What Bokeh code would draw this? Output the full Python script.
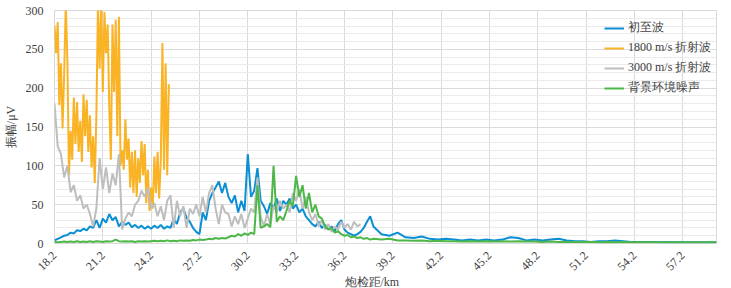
from bokeh.plotting import figure
from bokeh.models import Range1d, FixedTicker, Legend, LegendItem, Title
from bokeh.embed import file_html
from bokeh.resources import INLINE
from math import pi

# ---------------- data ----------------
series_names = ["初至波", "1800 m/s 折射波", "3000 m/s 折射波", "背景环境噪声"]

# 1800 m/s refraction: samples every 0.1 km from 18.2 km
orange_start, orange_step = 18.2, 0.1
orange_uv = [281, 245, 285, 178, 232, 148, 218, 310, 235, 88,
             145, 108, 188, 128, 182, 118, 158, 105, 192, 138,
             185, 118, 165, 98, 138, 78, 165, 310, 225, 305,
             195, 298, 245, 282, 175, 108, 282, 195, 288, 138,
             292, 100, 120, 95, 160, 108, 135, 72, 118, 65,
             120, 60, 110, 78, 132, 88, 128, 52, 95, 42,
             72, 45, 112, 65, 118, 58, 108, 258, 95, 232,
             88, 205]

# dense part: samples every 0.2 km from 18.2 km
dense_start, dense_step = 18.2, 0.2
gray_uv = [180, 125, 115, 85, 100, 66, 75, 55, 62, 45,
           50, 38, 22, 45, 110, 70, 98, 65, 90, 75,
           115, 18, 32, 40, 35, 50, 55, 68, 60, 72,
           45, 52, 35, 48, 30, 55, 62, 20, 55, 35,
           48, 20, 45, 38, 50, 35, 60, 40, 65, 75,
           45, 25, 50, 40, 38, 22, 35, 25, 38, 20,
           32, 45, 40, 85, 35, 22, 38, 25, 48, 40,
           55, 45, 50, 40, 65, 55, 70, 45, 60, 40,
           30, 38, 22, 30, 18, 25, 15, 22, 18, 28,
           20, 25, 18, 28, 22, 25]

blue_uv_dense = [4, 6, 8, 10, 11, 14, 13, 17, 16, 19,
                 17, 22, 20, 30, 20, 32, 27, 38, 30, 34,
                 22, 28, 24, 27, 21, 24, 20, 23, 19, 22,
                 19, 23, 20, 24, 19, 22, 20, 32, 25, 40,
                 45, 33, 28, 20, 15, 12, 40, 30, 55, 65,
                 72, 80, 65, 78, 60, 52, 62, 40, 55, 42,
                 115, 60, 68, 97, 55, 48, 38, 52, 45, 58,
                 42, 55, 50, 58, 45, 50, 40, 45, 35, 30,
                 25, 22, 28, 20, 24, 18, 22, 16, 25, 30,
                 18, 14, 12, 10, 12, 15, 20, 28, 35, 22]

green_uv_dense = [2, 1.5, 2, 2.5, 2, 2.5, 2, 3, 2, 2.5,
                  2, 3, 2, 3, 2.5, 2, 3, 2.5, 3, 5,
                  3, 2.5, 3, 2.5, 3, 2, 3, 2.5, 3, 2.5,
                  3, 3.5, 3, 3.5, 3, 4, 3, 3.5, 3, 4,
                  3.5, 4, 3.5, 4.5, 4, 5, 4.5, 5, 6, 5.5,
                  7, 6, 7, 6.5, 8, 10, 9, 12, 10, 13,
                  11, 14, 12, 75, 20, 22, 25, 21, 100, 28,
                  35, 30, 42, 55, 48, 87, 60, 75, 45, 65,
                  40, 50, 35, 32, 22, 18, 20, 14, 16, 12,
                  10, 11, 8, 9, 7, 8, 6, 7, 5, 6]

# tail part (km), sparser samples
tail_km = [38.5, 39.0, 39.5, 40.0, 40.5, 41.0, 41.5, 42.0, 42.5, 43.0,
           43.5, 44.0, 44.5, 45.0, 45.5, 46.0, 46.5, 47.0, 47.5, 48.0,
           48.5, 49.0, 49.5, 50.0, 50.5, 51.0, 51.5, 52.0, 52.5, 53.0,
           53.5, 54.0, 54.5, 55.0, 55.5, 56.0, 56.5, 57.0, 57.5, 58.0,
           58.5, 59.0, 59.3]
blue_uv_tail = [12, 10, 14, 8, 7, 9, 6, 5, 6, 5,
                4, 5, 4, 5, 4, 5, 8, 7, 4, 5,
                4, 5, 6, 4, 3, 3, 2, 3, 3, 4,
                3, 2, 2, 2, 2, 1.5, 2, 1.5, 1.5, 1.5,
                1.5, 1.5, 1.5]
green_uv_tail = [5, 6, 4, 4, 3.5, 4, 3, 3.5, 3, 3,
                 2.5, 3, 2.5, 3, 2.5, 3, 2.5, 3, 2.5, 2.5,
                 2, 2.5, 2, 2, 2, 2, 2, 1.5, 2, 1.5,
                 2, 1.5, 1.5, 1.5, 1.5, 1.5, 1.5, 1.5, 1.5, 1.5,
                 1.5, 1.5, 1.5]

x_tick_labels = ["18.2", "21.2", "24.2", "27.2", "30.2", "33.2", "36.2",
                 "39.2", "42.2", "45.2", "48.2", "51.2", "54.2", "57.2"]
y_ticks = [0, 50, 100, 150, 200, 250, 300]
y_minor = [10, 20, 30, 40, 60, 70, 80, 90, 110, 120, 130, 140, 160, 170, 180, 190,
           210, 220, 230, 240, 260, 270, 280, 290]

colors = ["#0A8FD4", "#F9B325", "#BEBEBE", "#4DB748"]

# ---------------- build x positions ----------------
orange_km = [round(orange_start + orange_step * i, 2) for i in range(len(orange_uv))]
gray_km = [round(dense_start + dense_step * i, 2) for i in range(len(gray_uv))]
dense_km = [round(dense_start + dense_step * i, 2) for i in range(len(blue_uv_dense))]
blue_km = dense_km + tail_km
blue_uv = blue_uv_dense + blue_uv_tail
green_km = dense_km + tail_km
green_uv = green_uv_dense + green_uv_tail

SERIF = "Liberation Serif"
TXT = "#404040"

p = figure(width=731, height=288, output_backend="svg", toolbar_location=None,
           x_range=Range1d(18.2, 59.3), y_range=Range1d(0, 300),
           min_border_left=43, min_border_right=15, min_border_top=10, min_border_bottom=45)

p.background_fill_color = "white"
p.border_fill_color = "white"
p.outline_line_color = "#D9D9D9"
p.outline_line_width = 1

r_blue = p.line(blue_km, blue_uv, line_color=colors[0], line_width=2)
r_orange = p.line(orange_km, orange_uv, line_color=colors[1], line_width=2)
r_gray = p.line(gray_km, gray_uv, line_color=colors[2], line_width=2)
r_green = p.line(green_km, green_uv, line_color=colors[3], line_width=2)

# axes
x_ticks = [float(s) for s in x_tick_labels]
p.xaxis.ticker = FixedTicker(ticks=x_ticks)
p.xaxis.major_label_overrides = {t: s for t, s in zip(x_ticks, x_tick_labels)}
p.xaxis.major_label_orientation = pi / 4
p.yaxis.ticker = FixedTicker(ticks=y_ticks, minor_ticks=y_minor)

for ax in (p.xaxis[0], p.yaxis[0]):
    ax.axis_line_color = None
    ax.major_tick_line_color = None
    ax.minor_tick_line_color = None
    ax.major_label_text_font = SERIF
    ax.major_label_text_font_size = "12px"
    ax.major_label_text_color = TXT
    ax.axis_label_text_font = SERIF
    ax.axis_label_text_font_size = "12px"
    ax.axis_label_text_font_style = "normal"
    ax.axis_label_text_color = TXT

p.xaxis.major_label_standoff = 4
p.yaxis.major_label_standoff = 5
p.yaxis.axis_label = "振幅/μV"
p.yaxis.axis_label_standoff = 5

p.xgrid.grid_line_color = "#DADADA"
p.ygrid.grid_line_color = "#DADADA"
p.ygrid.minor_grid_line_color = "#EBEBEB"

xtitle = Title(text="炮检距/km", align="left", offset=290, standoff=-5,
               vertical_align="top",
               text_font=SERIF, text_font_size="12px", text_color=TXT,
               text_font_style="normal")
p.add_layout(xtitle, "below")

legend = Legend(items=[LegendItem(label=series_names[0], renderers=[r_blue]),
                       LegendItem(label=series_names[1], renderers=[r_orange]),
                       LegendItem(label=series_names[2], renderers=[r_gray]),
                       LegendItem(label=series_names[3], renderers=[r_green])],
                location=(546, 143))
legend.background_fill_alpha = 0
legend.border_line_alpha = 0
legend.label_text_font = SERIF
legend.label_text_font_size = "12px"
legend.label_text_color = TXT
legend.glyph_width = 20
legend.glyph_height = 16
legend.label_height = 16
legend.label_standoff = 4
legend.spacing = 3
legend.padding = 4
legend.margin = 0
p.add_layout(legend)

open("out.html", "w").write(file_html(p, INLINE))
